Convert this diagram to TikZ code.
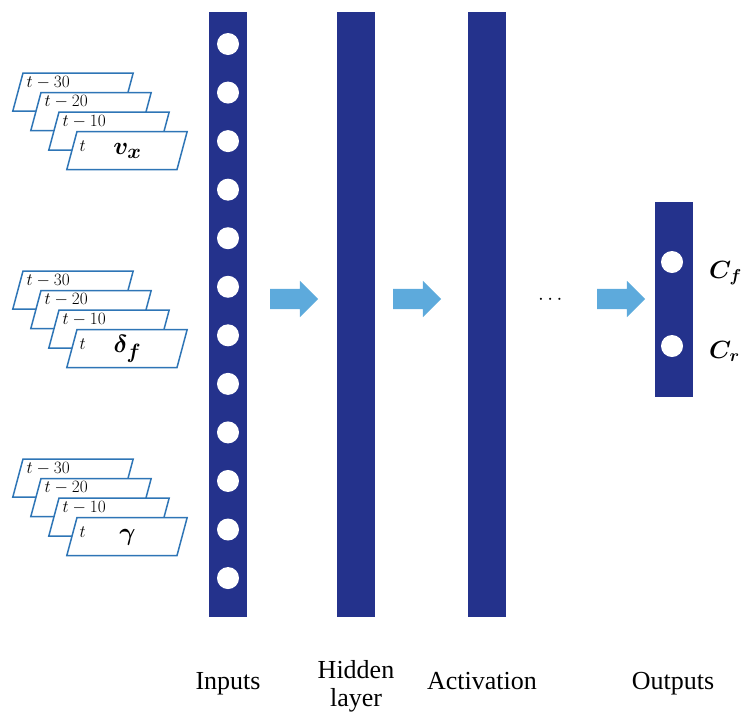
\documentclass[tikz,border=0pt]{standalone}
\usepackage{amsmath}
\usepackage{fontspec}
\setmainfont{Liberation Serif}
\usetikzlibrary{shapes.geometric, shapes.arrows, positioning, calc}

\definecolor{barblue}{RGB}{36,50,140}
\definecolor{flowblue}{RGB}{93,170,220}
\definecolor{cardblue}{RGB}{46,117,182}

\begin{document}
\begin{tikzpicture}[
    x=1pt, y=-1pt,
    % Layer bar style
    layer/.style={rectangle, fill=barblue, inner sep=0pt, minimum width=38pt},
    % Neuron style
    neuron/.style={circle, fill=white, inner sep=0pt, minimum size=22pt},
    % Block arrow between layers
    flow/.style={single arrow, fill=flowblue, inner xsep=0pt, inner ysep=10pt, minimum height=48pt, single arrow head extend=8pt},
    % Time-slice card style
    card/.style={trapezium, trapezium left angle=75, trapezium right angle=105, draw=cardblue, line width=1.5pt, fill=white, inner xsep=50pt, inner ysep=19pt},
    lag/.style={font=\fontsize{19}{22}\selectfont, anchor=base west, inner sep=0pt},
    signal/.style={font=\fontsize{32}{36}\selectfont, anchor=base, inner sep=0pt},
    caption/.style={font=\fontsize{26}{28}\selectfont, align=center, inner sep=0pt}
]
\useasboundingbox (0,0) rectangle (746,713);

% ================= Input cards =================
\foreach \g/\ytop/\sig in {vx/73/{\boldsymbol{v_x}}, df/271/{\boldsymbol{\delta_f}}, ga/459/{\boldsymbol{\gamma}}}{
  \foreach \i/\lag in {0/$t-30$, 1/$t-20$, 2/$t-10$}{
    \node[card] (\g\i) at (73+18*\i, \ytop+19.5*\i+19) {};
    \node[lag] (\g\i-lag) at ($(\g\i.top left corner)+(4,15)$) {\lag};
  }
  \node[card] (\g3) at (127, \ytop+77.5) {};
  \node[lag] (\g3-lag) at ($(\g3.top left corner)+(3,21)$) {$t$};
  \node[signal] (\g-sig) at ($(\g3.top left corner)+(51,24)$) {$\sig$};
}

% ================= Layers =================
\node[layer, minimum height=605pt] (inputs) at (228,314.5) {};
\foreach \i in {0,...,11}
  \node[neuron] (in\i) at (228, 44+48.55*\i) {};
\node[layer, minimum height=605pt] (hidden) at (355.5,314.5) {};
\node[layer, minimum height=605pt] (activ) at (486.5,314.5) {};
\node[layer, minimum height=195pt] (outputs) at (673.5,299.5) {};
\node[neuron] (out1) at (672,262) {};
\node[neuron] (out2) at (672,346) {};

% output names
\node[anchor=base west, inner sep=0pt, font=\fontsize{26}{30}\selectfont] (cf) at (709,278) {$\boldsymbol{C_f}$};
\node[anchor=base west, inner sep=0pt, font=\fontsize{26}{30}\selectfont] (cr) at (709,358) {$\boldsymbol{C_r}$};

% ================= Flow arrows =================
\node[flow] (f1) at (289,299) {};
\node[flow] (f2) at (412,299) {};
\node[font=\fontsize{20}{24}\selectfont, inner sep=0pt] (dots) at (552,300) {$\cdots$};
\node[flow] (f3) at (616,299) {};

% ================= Captions =================
\node[caption, anchor=base] (cap-in) at (228,689) {Inputs};
\node[caption, anchor=north] (cap-hid) at (356,660) {Hidden\\layer};
\node[caption, anchor=base] (cap-act) at (482,689) {Activation};
\node[caption, anchor=base] (cap-out) at (673,689) {Outputs};

\end{tikzpicture}
\end{document}
